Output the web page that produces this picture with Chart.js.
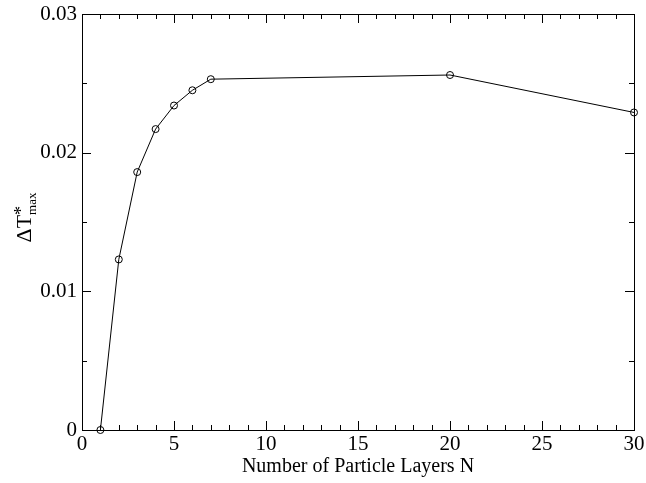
<!DOCTYPE html>
<html>
<head>
<meta charset="utf-8">
<script src="https://cdn.jsdelivr.net/npm/chart.js@4/dist/chart.umd.min.js"></script>
<style>
html,body{margin:0;padding:0;background:#fff;}
#wrap{width:646px;height:483px;}
</style>
</head>
<body>
<div id="wrap"><canvas id="c" width="646" height="483"></canvas></div>
<script>
const layers = [1, 2, 3, 4, 5, 6, 7, 20, 30];
const deltaTmax = [0.0, 0.0123, 0.0186, 0.0217, 0.0234, 0.0245, 0.0253, 0.0256, 0.0229];
const xTitle = 'Number of Particle Layers N';
const yTitleMain = 'ΔT';
const yTitleSup = '*';
const yTitleSub = 'max';

const FONT = '"Liberation Serif", "DejaVu Serif", serif';

const frameTicks = {
  id: 'frameTicks',
  afterDatasetsDraw(chart) {
    const {ctx, chartArea: {left, right, top, bottom}, scales: {x, y}} = chart;
    ctx.save();
    ctx.strokeStyle = '#000';
    ctx.lineWidth = 1;
    ctx.strokeRect(Math.round(left) + 0.5, Math.round(top) + 0.5, Math.round(right - left), Math.round(bottom - top));
    ctx.beginPath();
    for (let v = 0; v <= 30; v += 1) {
      const px = Math.round(x.getPixelForValue(v)) + 0.5;
      const len = v % 5 === 0 ? 9 : 5;
      ctx.moveTo(px, bottom); ctx.lineTo(px, bottom - len);
      ctx.moveTo(px, top); ctx.lineTo(px, top + len);
    }
    for (let i = 0; i <= 6; i++) {
      const v = i * 0.005;
      const py = Math.round(y.getPixelForValue(v)) + 0.5;
      const len = i % 2 === 0 ? 9 : 5;
      ctx.moveTo(left, py); ctx.lineTo(left + len, py);
      ctx.moveTo(right, py); ctx.lineTo(right - len, py);
    }
    ctx.stroke();
    ctx.restore();
  },
  afterDraw(chart) {
    const {ctx} = chart;
    ctx.save();
    ctx.fillStyle = '#000';
    ctx.translate(23, 217);
    ctx.rotate(-Math.PI / 2);
    ctx.textBaseline = 'alphabetic';
    const big = '22px ' + FONT, small = '13px ' + FONT;
    ctx.font = big;
    const w1 = ctx.measureText(yTitleMain).width;
    ctx.font = small;
    const w2 = Math.max(ctx.measureText(yTitleSup).width, ctx.measureText(yTitleSub).width);
    const total = w1 + w2 + 1;
    let sx = -total / 2;
    ctx.font = big;
    ctx.fillText(yTitleMain, sx, 8);
    ctx.font = '18px ' + FONT;
    ctx.fillText(yTitleSup, sx + w1, 4);
    ctx.font = small;
    ctx.fillText(yTitleSub, sx + w1, 13);
    ctx.restore();
  }
};

new Chart(document.getElementById('c'), {
  type: 'line',
  data: {
    datasets: [{
      data: layers.map((n, i) => ({x: n, y: deltaTmax[i]})),
      borderColor: '#000',
      borderWidth: 1,
      pointRadius: 3.5,
      pointBorderWidth: 1,
      pointBorderColor: '#000',
      pointBackgroundColor: 'rgba(255,255,255,0)',
      pointStyle: 'circle',
      tension: 0,
      clip: false
    }]
  },
  options: {
    responsive: false,
    animation: false,
    devicePixelRatio: 1,
    layout: {padding: {top: 14, right: 12, left: 0, bottom: 0}},
    plugins: {legend: {display: false}, tooltip: {enabled: false}},
    scales: {
      x: {
        type: 'linear', min: 0, max: 30,
        grid: {display: false, drawTicks: false},
        border: {display: false},
        ticks: {stepSize: 5, color: '#000', font: {family: FONT, size: 21, lineHeight: 1}, padding: 4, maxRotation: 0,
          callback: v => String(v)},
        title: {display: true, text: xTitle, color: '#000', font: {family: FONT, size: 20}, padding: {top: 0, bottom: 4}},
        afterFit(s) { s.height = 53; s.paddingLeft = 0; s.paddingRight = 0; }
      },
      y: {
        type: 'linear', min: 0, max: 0.03,
        grid: {display: false, drawTicks: false},
        border: {display: false},
        ticks: {stepSize: 0.01, color: '#000', font: {family: FONT, size: 21, lineHeight: 1}, padding: 5,
          callback: v => Math.abs(v) < 1e-9 ? '0' : v.toFixed(2)},
        afterFit(s) { s.width = 82; s.paddingTop = 0; s.paddingBottom = 0; }
      }
    }
  },
  plugins: [frameTicks]
});
</script>
</body>
</html>
